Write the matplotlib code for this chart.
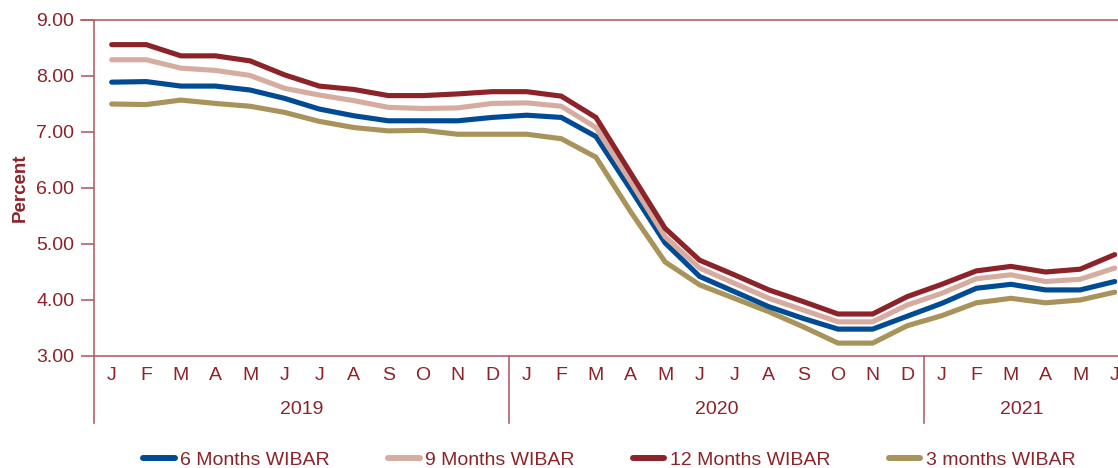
import matplotlib
matplotlib.use("Agg")
import matplotlib.pyplot as plt
from matplotlib.lines import Line2D

# Monthly WIBAR rates, Jan 2019 - Jun 2021 (percent)
months = ["J", "F", "M", "A", "M", "J", "J", "A", "S", "O", "N", "D"] * 2 + ["J", "F", "M", "A", "M", "J"]
years = ["2019", "2020", "2021"]

wibar_6m = [7.89, 7.90, 7.82, 7.82, 7.75, 7.60, 7.41, 7.29, 7.20, 7.20, 7.20, 7.26,
            7.30, 7.26, 6.92, 5.98, 5.02, 4.42, 4.15, 3.88, 3.67, 3.48, 3.48, 3.71,
            3.94, 4.21, 4.28, 4.18, 4.18, 4.33]
wibar_9m = [8.29, 8.29, 8.14, 8.10, 8.01, 7.78, 7.66, 7.56, 7.44, 7.42, 7.43, 7.51,
            7.52, 7.46, 7.08, 6.12, 5.13, 4.57, 4.30, 4.03, 3.82, 3.61, 3.61, 3.91,
            4.12, 4.38, 4.45, 4.33, 4.37, 4.57]
wibar_12m = [8.56, 8.56, 8.36, 8.36, 8.27, 8.02, 7.82, 7.76, 7.65, 7.65, 7.68, 7.72,
             7.72, 7.64, 7.26, 6.27, 5.28, 4.71, 4.45, 4.18, 3.97, 3.75, 3.75, 4.06,
             4.28, 4.52, 4.60, 4.50, 4.55, 4.81]
wibar_3m = [7.50, 7.49, 7.57, 7.51, 7.46, 7.35, 7.19, 7.08, 7.02, 7.03, 6.96, 6.96,
            6.96, 6.88, 6.55, 5.58, 4.68, 4.27, 4.03, 3.79, 3.52, 3.23, 3.23, 3.54,
            3.72, 3.95, 4.03, 3.95, 4.00, 4.14]

series = [
    ("6 Months WIBAR", wibar_6m, "#004b93"),
    ("9 Months WIBAR", wibar_9m, "#d5ac9f"),
    ("12 Months WIBAR", wibar_12m, "#8c2328"),
    ("3 months WIBAR", wibar_3m, "#a8945a"),
]

text_color = "#8c2328"
axis_color = "#b36168"

plt.rcParams["font.family"] = ["Liberation Sans", "DejaVu Sans"]

W, H = 1118, 468
fig = plt.figure(figsize=(W / 100, H / 100), dpi=100)
left_px, right_px, top_px, bottom_px = 94.4, 1132.0, 20.0, 356.0
ax = fig.add_axes([left_px / W, 1 - bottom_px / H,
                   (right_px - left_px) / W, (bottom_px - top_px) / H])

x = list(range(len(months)))
# 3M first, 12M last so the upper lines sit on top
for name, vals, col in [series[3], series[0], series[1], series[2]]:
    ax.plot(x, vals, color=col, lw=3.7, solid_capstyle="round",
            solid_joinstyle="miter", label=name)

ax.set_xlim(-0.5, len(months) - 0.5)
ax.set_ylim(3, 9)
ax.set_yticks([3, 4, 5, 6, 7, 8, 9])
ax.set_yticklabels([f"{v:.2f}" for v in [3, 4, 5, 6, 7, 8, 9]])
ax.set_xticks(x)
ax.set_xticklabels(months)

ax.spines["right"].set_visible(False)
for s in ["left", "bottom", "top"]:
    ax.spines[s].set_color(axis_color)
    ax.spines[s].set_linewidth(1.2)

ax.tick_params(axis="y", colors=axis_color, length=9.5, width=1.2, pad=5,
               labelsize=14, labelcolor=text_color)
ax.tick_params(axis="x", length=0, pad=8, labelsize=14, labelcolor=text_color)

# top rule extends left like a tick
ax.plot([-0.5 - 13.5 / 34.6, -0.5], [9, 9], color=axis_color, lw=1.2,
        clip_on=False)

# year separators and extension of left axis below the month row
ext = -(423 - 356) / (bottom_px - top_px)
trans = ax.get_xaxis_transform()
for xb in [-0.5, 11.5, 23.5]:
    ax.add_line(Line2D([xb, xb], [0, ext], transform=trans, color=axis_color,
                       lw=1.2, clip_on=False))

year_y = -(410 - 356) / (bottom_px - top_px)
for yr, xc in zip(years, [5.5, 17.5, 26.3]):
    ax.text(xc, year_y, yr, transform=trans, ha="center", va="center",
            fontsize=14, color=text_color)

fig.text(20 / W, 1 - 188 / H, "Percent", rotation=90, ha="center", va="center",
         fontsize=13.5, fontweight="bold", color=text_color)

handles = [Line2D([], [], color=c, lw=4.3, solid_capstyle="round") for _, _, c in series]
labels = [n for n, _, _ in series]
leg = fig.legend(handles, labels, loc="center", bbox_to_anchor=(609.5 / W, 1 - 460 / H),
                 ncol=4, frameon=False, fontsize=14, handlelength=1.6,
                 handletextpad=0.3, columnspacing=3.0, borderpad=0)
for t in leg.get_texts():
    t.set_color(text_color)

fig.savefig("out.png", dpi=100)
